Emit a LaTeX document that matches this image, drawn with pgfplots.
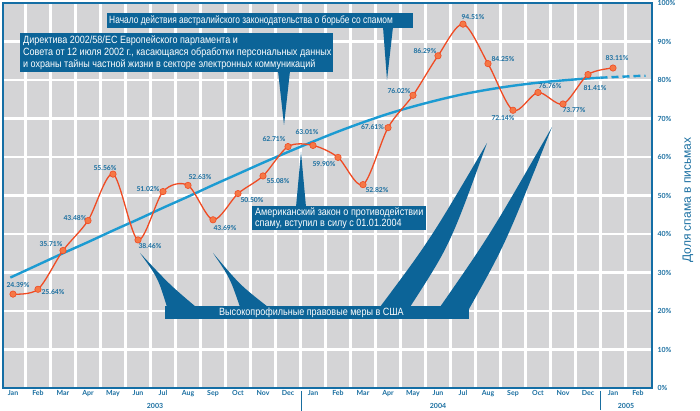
\documentclass[border=0pt]{standalone}
\usepackage{fontspec}
\usepackage{pgfplots}
\pgfplotsset{compat=1.18}
\setmainfont{Lato}
\newfontfamily\cond[FakeStretch=0.8]{Liberation Sans}
\newfontfamily\condw[FakeStretch=0.86]{Liberation Sans}
\newfontfamily\labfont{Liberation Sans}
\definecolor{boxblue}{RGB}{12,100,152}
\definecolor{frameblue}{RGB}{20,110,165}
\definecolor{tickblue}{RGB}{25,110,160}
\definecolor{trendblue}{RGB}{28,155,210}
\definecolor{redline}{RGB}{240,75,35}
\definecolor{markfill}{RGB}{245,120,70}
\definecolor{cellgray}{RGB}{212,212,214}
\newcommand{\lab}[4]{\node[font=\bfseries\fontsize{6.8}{7}\selectfont, text=tickblue, inner sep=0pt, xshift=#3pt, yshift=#4pt] at (axis cs:#1,#2) {#2\%};}
\begin{document}
\begin{tikzpicture}
\useasboundingbox (0,0) rectangle (700pt,411pt);
\begin{axis}[
  at={(3pt,23pt)}, anchor=south west,
  scale only axis, width=649pt, height=385pt,
  xmin=-0.4, xmax=25.56, ymin=0, ymax=100,
  clip=false,
  axis background/.style={fill=cellgray},
  axis line style={draw=frameblue, line width=1.3pt},
  xtick={0,...,25},
  xticklabels={Jan,Feb,Mar,Apr,May,Jun,Jul,Aug,Sep,Oct,Nov,Dec,Jan,Feb,Mar,Apr,May,Jun,Jul,Aug,Sep,Oct,Nov,Dec,Jan,Feb},
  minor xtick={0.5,1.5,...,24.5},
  ytick={0,10,...,100},
  yticklabels={0\%,10\%,20\%,30\%,40\%,50\%,60\%,70\%,80\%,90\%,100\%},
  yticklabel pos=right,
  xminorgrids, ymajorgrids,
  minor grid style={white, line width=2.6pt},
  major grid style={white, line width=2.6pt},
  major tick length=0pt, minor tick length=0pt,
  tick style={draw=none},
  x tick label style={font=\bfseries\fontsize{7}{8}\selectfont, text=tickblue, anchor=north, yshift=1pt},
  y tick label style={font=\bfseries\fontsize{7}{8}\selectfont, text=tickblue, anchor=west, xshift=2pt},
]
\addplot[trendblue, line width=2.4pt, smooth] coordinates {
 (-0.1,28.7) (0,29.0) (1,32.0) (2,35.0) (3,37.9) (4,40.9) (5,43.8) (6,46.8) (7,49.7)
 (8,52.7) (9,55.6) (10,58.5) (11,61.3) (12,64.0) (13,66.6) (14,69.0) (15,71.2)
 (16,73.1) (17,74.8) (18,76.3) (19,77.5) (20,78.5) (21,79.3) (22,79.9) (23,80.4) (23.5,80.6)};
\addplot[trendblue, line width=2.4pt, dash pattern=on 7pt off 4pt] coordinates {(23.5,80.6) (24,80.75) (25,81.05) (25.3,81.1)};
\addplot[redline, line width=1.3pt, smooth, mark=*, mark size=3.2pt,
  mark options={solid, fill=markfill, draw=redline, line width=0.6pt}] coordinates {
 (0,24.39) (1,25.64) (2,35.71) (3,43.48) (4,55.56) (5,38.46) (6,51.02) (7,52.63)
 (8,43.69) (9,50.50) (10,55.08) (11,62.71) (12,63.01) (13,59.90) (14,52.82) (15,67.61)
 (16,76.02) (17,86.29) (18,94.51) (19,84.25) (20,72.14) (21,76.76) (22,73.77) (23,81.41) (24,83.11)};
\lab{0}{24.39}{5}{9}
\lab{1}{25.64}{15}{-2.5}
\lab{2}{35.71}{-12}{6.5}
\lab{3}{43.48}{-13}{3}
\lab{4}{55.56}{-8}{6.5}
\lab{5}{38.46}{12}{-6}
\lab{6}{51.02}{-15}{3}
\lab{7}{52.63}{12}{8}
\lab{8}{43.69}{12}{-8.5}
\lab{9}{50.50}{14}{-6}
\lab{10}{55.08}{15}{-5}
\lab{11}{62.71}{-14}{7.5}
\lab{12}{63.01}{-6}{13}
\lab{13}{59.90}{-14}{-7}
\lab{14}{52.82}{14}{-5}
\lab{15}{67.61}{-15.5}{1}
\lab{16}{76.02}{-14}{4}
\lab{17}{86.29}{-13}{5}
\lab{18}{94.51}{10}{7}
\lab{19}{84.25}{15}{5}
\lab{20}{72.14}{-10}{-8}
\lab{21}{76.76}{12}{6.5}
\lab{22}{73.77}{11}{-6}
\lab{23}{81.41}{7}{-13}
\lab{24}{83.11}{4}{10}
\end{axis}
\begin{scope}[yshift=411pt, x=1pt, y=-1pt]
 % wedges (slightly concave, tapering to a point)
 \fill[boxblue] (140,253) .. controls (158,278) .. (167,307) -- (196,307) .. controls (170,285) .. cycle;
 \fill[boxblue] (213,253) .. controls (230,278) .. (240,307) -- (268,307) .. controls (240,285) .. cycle;
 \fill[boxblue] (487,143) .. controls (430,240) .. (380,307) -- (410,307) .. controls (450,245) .. cycle;
 \fill[boxblue] (552,127) .. controls (490,235) .. (440,307) -- (469,309) .. controls (505,245) .. cycle;
 % pointers
 \fill[boxblue] (383,27) -- (393,27) -- (387,80) -- cycle;
 \fill[boxblue] (278,71) -- (290,71) -- (284,125) -- cycle;
 \fill[boxblue] (296,207) -- (306,207) -- (301,152) -- cycle;
 % boxes
 \fill[boxblue] (107,13) rectangle (413,28);
 \fill[boxblue] (20,33) rectangle (333,72);
 \fill[boxblue] (252,206) rectangle (426,230);
 \fill[boxblue] (165,306) rectangle (469,319);
 \node[font=\cond\fontsize{10.5}{12}\selectfont, text=white, inner sep=0pt, anchor=west] at (109,20.5) {Начало действия австралийского законодательства о борьбе со спамом};
 \begin{scope}[every node/.style={font=\condw\fontsize{10.5}{12}\selectfont, text=white, inner sep=0pt, anchor=west}]
  \node at (23,41) {Директива 2002/58/ЕС Европейского парламента и};
  \node at (23,53) {Совета от 12 июля 2002 г., касающаяся обработки персональных данных};
  \node at (23,65) {и охраны тайны частной жизни в секторе электронных коммуникаций};
  \node at (255,212.5) {Американский закон о противодействии};
  \node at (255,224) {спаму, вступил в силу с 01.01.2004};
  \node at (219,312.5) {Высокопрофильные правовые меры в США};
 \end{scope}
 % right axis label
 \node[font=\labfont\fontsize{12}{14}\selectfont, text=tickblue, rotate=90] at (688,200) {Доля спама в письмах};
 % years
 \begin{scope}[every node/.style={font=\bfseries\fontsize{7}{8}\selectfont, text=tickblue, inner sep=0pt}]
  \node at (155,406) {2003};
  \node at (438,406) {2004};
  \node at (626,406) {2005};
 \end{scope}
 \draw[tickblue, line width=0.8pt] (301,391) -- (301,411);
 \draw[tickblue, line width=0.8pt] (600,391) -- (600,410);
\end{scope}
\end{tikzpicture}
\end{document}
